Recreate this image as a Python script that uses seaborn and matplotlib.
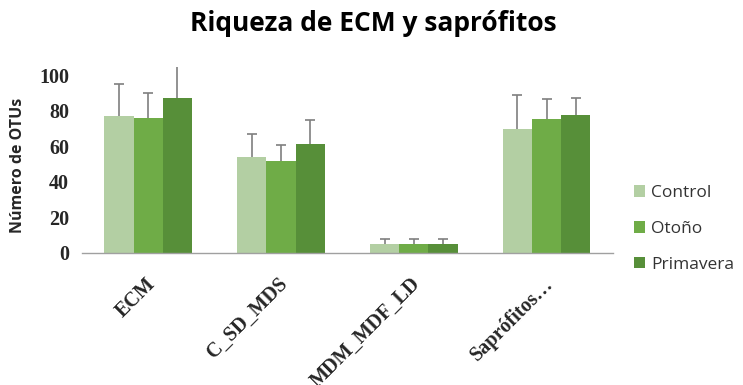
import pandas as pd
import matplotlib.pyplot as plt
import matplotlib.transforms as mtransforms
import seaborn as sns

# Data
grupos = ["ECM", "C_SD_MDS", "MDM_MDF_LD", "Saprófitos…"]
tratamientos = ["Control", "Otoño", "Primavera"]
control = [77, 54, 5, 70]
otono = [76, 52, 5, 75.5]
primavera = [87, 61.5, 5, 77.5]
err_control = [18, 13, 3, 19]
err_otono = [14, 9, 3, 11]
err_primavera = [20, 13.5, 3, 9.5]

colores = ["#b3cfa3", "#6fac47", "#578f39"]

df = pd.DataFrame({
    "Grupo": grupos * 3,
    "Tratamiento": sum([[t] * len(grupos) for t in tratamientos], []),
    "OTUs": control + otono + primavera,
})
errores = [err_control, err_otono, err_primavera]

sns.set_style("white")
fig = plt.figure(figsize=(7.43, 3.85), dpi=100)
ax = fig.add_axes([0.110, 0.343, 0.715, 0.482])

sns.barplot(data=df, x="Grupo", y="OTUs", hue="Tratamiento", order=grupos,
            hue_order=tratamientos, palette=colores, width=0.66,
            errorbar=None, saturation=1, ax=ax, linewidth=0)

# upper-only error bars on each bar
for cont, err in zip(ax.containers, errores):
    xs = [b.get_x() + b.get_width() / 2 for b in cont]
    ys = [b.get_height() for b in cont]
    tops = [y + e for y, e in zip(ys, err)]
    ax.vlines(xs, ys, tops, color="#7f7f7f", linewidth=1.2, zorder=3)
    ax.plot(xs, tops, ls="none", marker="_", ms=7, mew=1.2, color="#7f7f7f", zorder=3)

ax.set_ylim(0, 104.5)
ax.set_xlim(-0.5, len(grupos) - 0.5)
ax.set_yticks([0, 20, 40, 60, 80, 100])
ax.set_yticklabels([str(v) for v in [0, 20, 40, 60, 80, 100]],
                   family="Liberation Serif", fontweight="bold", fontsize=14.5)
ax.tick_params(axis="y", length=0, pad=9)

# category boundary ticks on x axis
ax.set_xticks([i - 0.5 for i in range(len(grupos) + 1)], minor=True)
ax.tick_params(axis="x", which="minor", length=5, color="#a0a0a0", width=1, direction="out")
ax.tick_params(axis="x", which="major", length=0, pad=15)
ax.set_xticklabels(grupos, rotation=45, ha="right", va="top", rotation_mode="anchor",
                   family="Liberation Serif", fontweight="bold", fontsize=14.5)
shift = mtransforms.ScaledTranslation(-3 / 100, 0, fig.dpi_scale_trans)
for lab in ax.get_xticklabels():
    lab.set_transform(lab.get_transform() + shift)

for s in ["top", "right", "left"]:
    ax.spines[s].set_visible(False)
ax.spines["bottom"].set_color("#a0a0a0")
ax.spines["bottom"].set_linewidth(1)

ax.set_xlabel("")
ax.set_ylabel("Número de OTUs", family="Open Sans", fontweight="bold", fontsize=11.5)
ax.yaxis.set_label_coords(-0.105, 0.47)

fig.suptitle("Riqueza de ECM y saprófitos", family="Open Sans", fontweight="bold",
             fontsize=19, x=0.502, y=0.975, color="black")

leg = ax.legend(loc="center left", bbox_to_anchor=(1.01, 0.13), frameon=False,
                handlelength=0.65, handleheight=0.65, handletextpad=0.35,
                labelspacing=1.15, prop={"family": "Open Sans", "size": 12.5})
for t in leg.get_texts():
    t.set_color("#333333")

fig.savefig("out.png", dpi=100)
